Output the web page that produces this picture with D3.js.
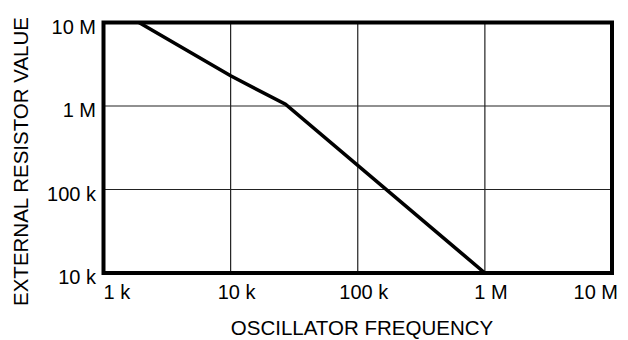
<!DOCTYPE html>
<html>
<head>
<meta charset="utf-8">
<script src="https://cdn.jsdelivr.net/npm/d3@7"></script>
<style>
  html, body { margin: 0; padding: 0; background: #fff; }
  svg { display: block; }
  text { font-family: "Liberation Sans", Arial, sans-serif; fill: #000; }
</style>
</head>
<body>
<svg id="chart" width="628" height="340"></svg>
<script>
// ---- data ----
const frequency = [1900, 10000, 27000, 1000000];          // Hz
const resistance = [10000000, 2300000, 1050000, 10000];   // ohms
const xTickValues = [1e3, 1e4, 1e5, 1e6, 1e7];
const xTickLabels = ["1 k", "10 k", "100 k", "1 M", "10 M"];
const yTickValues = [1e4, 1e5, 1e6, 1e7];
const yTickLabels = ["10 k", "100 k", "1 M", "10 M"];
const xTitle = "OSCILLATOR FREQUENCY";
const yTitle = "EXTERNAL RESISTOR VALUE";

// ---- layout ----
const plotL = 103.5, plotR = 612, plotT = 22.5, plotB = 273;

const svg = d3.select("#chart");
const x = d3.scaleLog().domain([1e3, 1e7]).range([plotL, plotR]);
const y = d3.scaleLog().domain([1e4, 1e7]).range([plotB, plotT]);

// grid lines
const grid = svg.append("g").attr("stroke", "#222").attr("stroke-width", 1.2);
grid.selectAll("line.v").data(xTickValues.slice(1, -1)).enter().append("line")
  .attr("x1", d => x(d)).attr("x2", d => x(d))
  .attr("y1", plotT).attr("y2", plotB);
grid.selectAll("line.h").data(yTickValues.slice(1, -1)).enter().append("line")
  .attr("x1", plotL).attr("x2", plotR)
  .attr("y1", d => y(d)).attr("y2", d => y(d));

// data line
const line = d3.line().x((d, i) => x(frequency[i])).y((d, i) => y(resistance[i]));
svg.append("path")
  .datum(frequency)
  .attr("d", line)
  .attr("fill", "none")
  .attr("stroke", "#000")
  .attr("stroke-width", 3.6)
  .attr("stroke-linejoin", "miter");

// frame
svg.append("rect")
  .attr("x", plotL).attr("y", plotT)
  .attr("width", plotR - plotL).attr("height", plotB - plotT)
  .attr("fill", "none").attr("stroke", "#000").attr("stroke-width", 4);

// x tick labels
const nX = xTickValues.length;
svg.append("g").selectAll("text").data(xTickValues).enter().append("text")
  .attr("x", (d, i) => i === 0 ? x(d) : Math.min(x(d) + 6, 625))
  .attr("y", 299)
  .attr("text-anchor", (d, i) => i === 0 ? "start" : (i === nX - 1 ? "end" : "middle"))
  .attr("font-size", 20)
  .text((d, i) => xTickLabels[i]);

// y tick labels
svg.append("g").selectAll("text").data(yTickValues).enter().append("text")
  .attr("x", 96)
  .attr("y", d => y(d) + 4)
  .attr("dy", "0.35em")
  .attr("text-anchor", "end")
  .attr("font-size", 20)
  .text((d, i) => yTickLabels[i]);

// axis titles
svg.append("text")
  .attr("x", 362).attr("y", 335)
  .attr("text-anchor", "middle")
  .attr("font-size", 20.5)
  .text(xTitle);

svg.append("text")
  .attr("transform", "translate(28,161.5) rotate(-90)")
  .attr("text-anchor", "middle")
  .attr("font-size", 20.5)
  .text(yTitle);
</script>
</body>
</html>
